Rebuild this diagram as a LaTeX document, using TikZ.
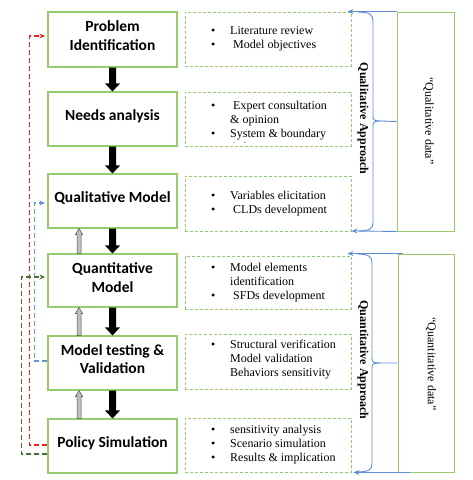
\documentclass[tikz,border=0pt]{standalone}
\usepackage{fontspec}
\setmainfont{Liberation Serif}
\newfontfamily\lblfont{Carlito}
\usetikzlibrary{arrows.meta,calc}
\definecolor{boxgreen}{RGB}{150,204,110}
\definecolor{braceblue}{RGB}{95,140,215}
\definecolor{loopred}{RGB}{240,30,30}
\definecolor{loopblue}{RGB}{100,145,215}
\definecolor{loopgreen}{RGB}{70,110,50}
\newcommand\bul{\makebox[19pt][l]{\textbullet}}
\newcommand\nob{\hspace*{19pt}}
\begin{document}
\begin{tikzpicture}[x=1pt,y=-1pt,
  mainbox/.style={draw=boxgreen, line width=1.1pt, minimum width=129pt, inner sep=0pt},
  mainlabel/.style={align=center, inner sep=0pt, font=\lblfont\bfseries\fontsize{15.5}{18.5}\selectfont},
  notebox/.style={draw=boxgreen, line width=0.9pt, dash pattern=on 3pt off 2pt, minimum width=166pt, inner sep=0pt},
  notetext/.style={anchor=west, align=left, inner sep=0pt, font=\fontsize{12}{14}\selectfont},
  sidebox/.style={draw=boxgreen, line width=0.9pt, inner sep=0pt},
  sidetext/.style={rotate=-90, inner sep=0pt, font=\fontsize{12}{14}\selectfont},
  approachtext/.style={rotate=-90, inner sep=0pt, font=\bfseries\fontsize{12}{14}\selectfont},
  bracepath/.style={draw=braceblue, line width=0.9pt},
  bracearrow/.style={draw=braceblue, line width=0.9pt, -{Stealth[length=6pt,width=5pt]}},
  loopline/.style={line width=1.4pt, dash pattern=on 5pt off 3pt, -{Stealth[length=5.5pt,width=5pt]}, shorten >=2.5pt},
  downarrow/.style={fill=black, to path={let \p1=(\tikztostart), \p2=(\tikztotarget) in
     (\x1-3.5pt,\y1) -- (\x1-3.5pt,\y2+8pt) -- (\x1-7.5pt,\y2+8pt) -- (\x1,\y2) -- (\x1+7.5pt,\y2+8pt) -- (\x1+3.5pt,\y2+8pt) -- (\x1+3.5pt,\y1) -- cycle}},
  upgray/.style={fill=black!25, draw=black!70, line width=0.5pt, to path={let \p1=(\tikztostart), \p2=(\tikztotarget) in
     (\x1-2pt,\y1) -- (\x1-2pt,\y2-6pt) -- (\x1-3.6pt,\y2-6pt) -- (\x1,\y2) -- (\x1+3.6pt,\y2-6pt) -- (\x1+2pt,\y2-6pt) -- (\x1+2pt,\y1) -- cycle}}
]
\useasboundingbox (0,0) rectangle (472,480);

% main boxes
\node[mainbox, minimum height=55pt] (b1) at (112.5,39.5) {};
\node[mainbox, minimum height=54pt] (b2) at (112.5,119) {};
\node[mainbox, minimum height=54pt] (b3) at (112.5,201) {};
\node[mainbox, minimum height=53pt] (b4) at (112.5,280.5) {};
\node[mainbox, minimum height=54pt] (b5) at (112.5,363) {};
\node[mainbox, minimum height=54pt] (b6) at (112.5,446) {};
\node[mainlabel] (t1) at ([yshift=4pt]b1.center) {Problem\\Identification};
\node[mainlabel] (t2) at ([yshift=3pt]b2.center) {Needs analysis};
\node[mainlabel] (t3) at ([yshift=3pt]b3.center) {Qualitative Model};
\node[mainlabel] (t4) at ([yshift=3pt]b4.center) {Quantitative\\Model};
\node[mainlabel] (t5) at ([yshift=4pt]b5.center) {Model testing \&\\Validation};
\node[mainlabel] (t6) at ([yshift=3pt]b6.center) {Policy Simulation};

% dashed note boxes
\node[notebox, minimum height=54pt] (d1) at (268,39) {};
\node[notebox, minimum height=54pt] (d2) at (268,119) {};
\node[notebox, minimum height=55pt] (d3) at (268,203.5) {};
\node[notebox, minimum height=53pt] (d4) at (268,282.5) {};
\node[notebox, minimum height=55pt] (d5) at (268,361.5) {};
\node[notebox, minimum height=54pt] (d6) at (268,445) {};

\node[notetext] (n1) at (211,39) {\bul Literature review\\\bul\ Model objectives};
\begin{scope}
  \clip (d2.north west) rectangle ($(d2.south east)+(0,-3.5)$);
  \node[notetext] (n2) at (211,126.5) {\bul\ Expert consultation\\\nob\& opinion\\\bul System \& boundary\\\nob definition};
\end{scope}
\node[notetext] (n3) at (211,203.5) {\bul Variables elicitation\\\bul\ CLDs development};
\node[notetext] (n4) at (211,283) {\bul Model elements\\\nob identification\\\bul\ SFDs development};
\node[notetext] (n5) at (211,360) {\bul Structural verification\\\nob Model validation\\\nob Behaviors sensitivity};
\node[notetext] (n6) at (211,445) {\bul sensitivity analysis\\\bul Scenario simulation\\\bul Results \& implication};

% right side boxes
\node[sidebox, minimum width=57pt, minimum height=219pt] (r1) at (425.5,121.5) {};
\node[sidebox, minimum width=56pt, minimum height=218pt] (r2) at (426,363) {};
\node[sidetext] (s1) at (428.5,121) {“Qualitative data”};
\node[sidetext] (s2) at (431,364) {“Quantitative data”};
\node[approachtext] (a1) at (363,118.5) {Qualitative Approach};
\node[approachtext] (a2) at (363,360) {Quantitative Approach};

% braces
\draw[bracepath] (358,12) .. controls (370,12.5) and (373,14) .. (373,22) -- (373,116)
   .. controls (373,120) and (374,121) .. (381,121) -- (r1.west);
\draw[bracepath] (381,121) .. controls (374,121) and (373,122) .. (373,126) -- (373,222)
   .. controls (373,229) and (370,230.5) .. (358,231);
\draw[bracearrow] (r1.north west) -- ($(d1.north east)+(-4,0)$);
\draw[bracearrow] (r1.south west) -- ($(d3.south east)+(0,-0.5)$);

\draw[bracepath] (358,254) .. controls (369,254.5) and (372,256) .. (372,264) -- (372,358)
   .. controls (372,362) and (373,363) .. (380,363) -- (r2.west);
\draw[bracepath] (380,363) .. controls (373,363) and (372,364) .. (372,368) -- (372,463)
   .. controls (372,470) and (369,471.5) .. (358,472);
\draw[bracearrow] ($(r2.north west)+(5,0)$) -- ($(r2.north west -| d4.east)+(-4,0)$);
\draw[bracearrow] ($(r2.south west)+(12,0)$) -- ($(r2.south west -| d6.east)+(2,0)$);

% main flow arrows
\path[downarrow] (b1.south) to (b2.north);
\path[downarrow] (b2.south) to (b3.north);
\path[downarrow] (b3.south) to (b4.north);
\path[downarrow] (b4.south) to (b5.north);
\path[downarrow] (b5.south) to (b6.north);

% feedback arrows
\path[upgray] ([xshift=-33.5pt]b4.north) to ([xshift=-33.5pt]b3.south);
\path[upgray] ([xshift=-33.5pt]b5.north) to ([xshift=-33.5pt]b4.south);
\path[upgray] ([xshift=-33.5pt]b6.north) to ([xshift=-33.5pt]b5.south);

% loops
\draw[loopline, draw=loopred] ([yshift=1pt]b6.west) -- ++(-18,0) |- ([yshift=3.5pt]b1.west);
\draw[loopline, draw=loopblue] ([yshift=2pt]b5.west) -- ++(-13,0) |- ([yshift=-2pt]b3.west);
\draw[loopline, draw=loopgreen] ([yshift=-8pt]b6.west) -- ++(-26,0) |- ([yshift=3.5pt]b4.west);
\end{tikzpicture}
\end{document}
